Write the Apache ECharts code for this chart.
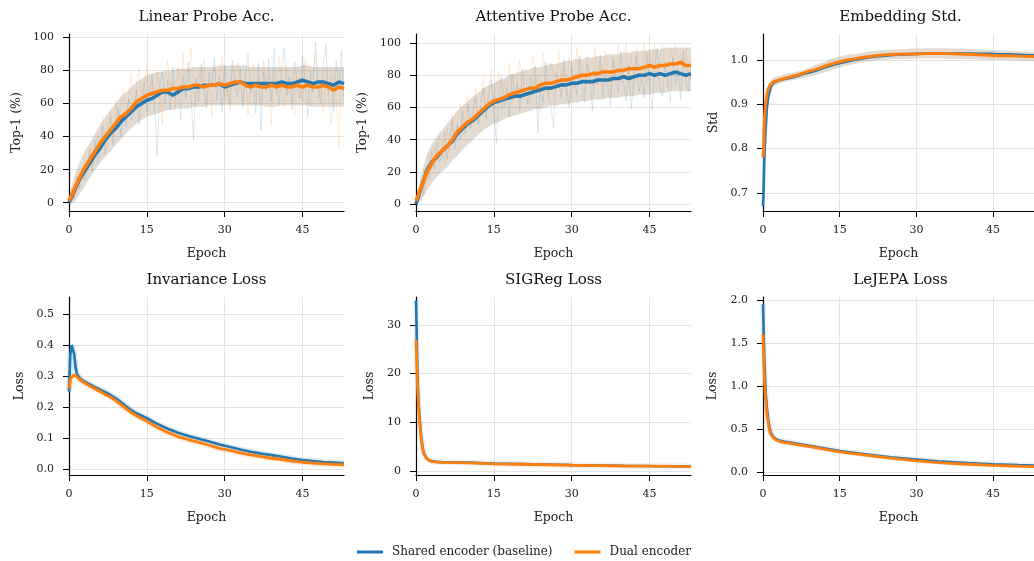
<!DOCTYPE html>
<html><head><meta charset="utf-8">
<script src="https://cdn.jsdelivr.net/npm/echarts@6/dist/echarts.min.js"></script>
<style>html,body{margin:0;padding:0;background:#fff;}#c{width:1034px;height:561px;}</style>
</head><body><div id="c"></div>
<script>
// ---------------- DATA ----------------
const xTicks = [0, 15, 30, 45];
const accEpochs = [0,1,2,3,4,5,6,7,8,9,10,11,12,13,14,15,16,17,18,19,20,21,22,23,24,25,26,27,28,29,30,31,32,33,34,35,36,37,38,39,40,41,42,43,44,45,46,47,48,49,50,51,52,53];
const rawEpochs = [0,0.5,1,1.5,2,2.5,3,3.5,4,4.5,5,5.5,6,6.5,7,7.5,8,8.5,9,9.5,10,10.5,11,11.5,12,12.5,13,13.5,14,14.5,15,15.5,16,16.5,17,17.5,18,18.5,19,19.5,20,20.5,21,21.5,22,22.5,23,23.5,24,24.5,25,25.5,26,26.5,27,27.5,28,28.5,29,29.5,30,30.5,31,31.5,32,32.5,33,33.5,34,34.5,35,35.5,36,36.5,37,37.5,38,38.5,39,39.5,40,40.5,41,41.5,42,42.5,43,43.5,44,44.5,45,45.5,46,46.5,47,47.5,48,48.5,49,49.5,50,50.5,51,51.5,52,52.5,53];

// Linear probe accuracy
const linBlue = [0,7,14,19,24,29,33,38,42,45,49,52,55,58,60,62,63,65,67,67,65,67,69,69,70,70,71,71,71,72,70,71,72,73,72,72,72,72,72,72,72,73,72,72,73,74,73,72,73,73,72,71,73,72];
const linOrange = [1,8,15,21,26,31,36,40,44,48,52,54,57,61,63,65,66,67,68,68,69,69,70,70,71,71,70,71,71,72,71,72,73,73,71,70,71,70,70,71,70,71,70,70,71,70,71,70,70,71,70,68,70,69];
const linBlueRaw = [0,5,2,16,8,21,13,25,30,19,38,24,31,46,29,41,52,35,47,58,40,55,46,63,50,54,68,47,62,73,55,66,78,57,28,71,80,60,74,56,82,63,70,50,77,64,85,66,38,75,61,84,68,57,79,72,88,62,76,55,83,69,60,86,74,64,81,58,77,90,66,73,54,84,44,79,68,87,61,93,70,59,82,94,65,76,56,85,71,63,89,74,52,80,67,97,72,60,83,96,66,78,55,86,69,92,62];
const linOrangeRaw = [2,9,12,4,19,14,26,18,33,24,28,42,35,52,37,48,55,40,62,49,58,70,51,64,78,56,69,82,60,71,84,63,74,58,80,69,47,77,86,64,73,57,82,68,90,62,75,94,66,58,80,71,87,60,74,52,83,69,77,88,63,72,56,81,67,85,76,61,79,53,70,84,64,75,59,86,68,78,47,80,65,88,72,57,83,66,76,52,84,69,61,87,73,58,78,90,63,71,55,82,67,47,79,64,34,76,68];
const linLower = [0,0,5,10,15,20,24,28,31,35,38,42,45,48,50,52,53,54,55,56,56,57,57,57,58,58,58,59,59,59,59,59,59,59,59,59,59,59,58,58,58,59,59,59,59,59,59,58,58,58,58,58,58,58];
const linUpper = [3,16,24,31,36,42,47,52,56,60,64,67,70,73,75,77,78,79,79,80,80,81,81,81,82,82,82,82,82,83,83,83,83,83,83,82,82,82,82,82,82,82,82,82,82,83,83,82,82,82,82,82,82,82];

// Attentive probe accuracy
const attBlue = [0,10,20,26,29,33,36,39,44,47,50,52,55,58,61,63,64,65,66,67,67,68,69,70,71,72,72,73,74,74,75,75,76,76,76,77,77,77,78,78,79,78,79,80,80,81,80,81,80,81,82,81,80,81];
const attOrange = [2,10,19,25,30,33,36,40,45,48,51,53,56,59,62,64,65,66,68,69,70,71,72,72,74,75,75,76,77,77,78,79,80,80,81,81,82,82,82,83,83,84,84,84,85,86,85,86,86,87,87,88,86,86];
const attBlueRaw = [0,6,14,5,24,15,33,22,38,26,30,45,28,41,52,34,49,40,58,44,62,47,56,66,49,61,72,53,67,77,57,38,70,79,60,72,54,81,66,75,58,84,68,62,79,71,86,44,74,63,88,70,61,47,82,76,66,90,72,60,85,77,68,92,71,63,87,79,58,83,74,93,66,80,72,61,89,77,69,95,75,64,86,59,81,92,70,78,66,94,76,58,85,97,72,67,88,79,63,91,74,84,65,95,77,70,86];
const attOrangeRaw = [3,10,7,22,14,30,21,36,27,42,35,25,47,33,55,41,50,62,43,57,68,49,61,72,52,66,78,57,71,85,60,74,82,58,77,70,88,63,80,73,90,65,84,76,62,92,74,81,68,94,78,66,88,80,70,96,75,84,67,91,81,72,97,77,86,70,93,82,73,98,79,89,72,95,84,66,92,80,99,75,88,100,78,93,71,97,85,79,100,74,94,86,99,77,91,100,81,72,96,88,100,79,93,84,98,76,90];
const attLower = [0,2,8,13,17,20,23,27,30,34,37,40,43,46,48,50,51,53,54,55,56,57,58,59,59,60,61,61,62,62,63,63,64,64,65,65,65,66,66,66,67,67,67,68,68,68,69,69,69,70,70,70,70,70];
const attUpper = [4,18,30,37,42,46,50,54,58,61,64,67,69,72,74,75,77,78,80,81,82,83,84,85,85,86,87,87,88,89,89,90,90,91,91,92,92,93,93,93,94,94,95,95,95,96,96,96,97,97,97,97,97,97];

// Embedding std
const embEpochs = [0,0.1,0.2,0.3,0.5,0.75,1,1.5,2,3,4,5,6,7,8,9,10,12,14,16,18,20,22,24,26,28,30,32,34,36,38,40,42,44,46,48,50,52,53];
const embBlue = [0.67,0.70,0.75,0.79,0.84,0.89,0.915,0.94,0.948,0.954,0.957,0.959,0.962,0.965,0.969,0.972,0.975,0.983,0.990,0.996,1.001,1.005,1.008,1.010,1.012,1.013,1.014,1.015,1.015,1.015,1.015,1.015,1.014,1.014,1.013,1.013,1.012,1.011,1.011];
const embOrange = [0.78,0.80,0.84,0.87,0.90,0.92,0.935,0.945,0.95,0.955,0.958,0.961,0.964,0.967,0.971,0.975,0.978,0.986,0.993,0.999,1.003,1.007,1.010,1.012,1.013,1.014,1.014,1.015,1.015,1.015,1.014,1.013,1.012,1.011,1.010,1.010,1.009,1.008,1.008];
const embLower = [0.70,0.91,0.94,0.946,0.950,0.953,0.955,0.958,0.960,0.962,0.965,0.969,0.972,0.976,0.980,0.983,0.986,0.989,0.992,0.994,0.996,0.998,0.999,1.000,1.001,1.002,1.002,1.003,1.003,1.003,1.003,1.004,1.004,1.004,1.004,1.004,1.003,1.003,1.003,1.003,1.002,1.002,1.002,1.001,1.001,1.000,1.000,1.000,0.999,0.999,0.999,0.998,0.998,0.998];
const embUpper = [0.80,0.945,0.96,0.964,0.967,0.970,0.972,0.975,0.978,0.983,0.988,0.992,0.996,1.001,1.005,1.008,1.011,1.013,1.014,1.016,1.018,1.020,1.021,1.022,1.023,1.024,1.024,1.025,1.025,1.026,1.026,1.026,1.027,1.027,1.027,1.027,1.027,1.026,1.026,1.026,1.025,1.025,1.024,1.024,1.023,1.023,1.022,1.022,1.021,1.021,1.020,1.020,1.019,1.019];

// Invariance loss
const invEpochs = [0,0.25,0.5,0.75,1,1.25,1.5,2,2.5,3,4,5,6,7,8,9,10,11,12,13,14,15,17,19,21,23,25,27,29,31,33,35,37,39,41,43,45,47,49,51,53];
const invBlue = [0.25,0.37,0.40,0.397,0.37,0.33,0.308,0.295,0.287,0.282,0.273,0.264,0.256,0.248,0.239,0.228,0.216,0.203,0.19,0.18,0.172,0.164,0.146,0.13,0.117,0.107,0.098,0.089,0.079,0.071,0.063,0.056,0.05,0.045,0.04,0.034,0.029,0.026,0.023,0.021,0.019];
const invOrange = [0.26,0.285,0.298,0.302,0.303,0.301,0.298,0.29,0.283,0.278,0.268,0.259,0.25,0.241,0.232,0.221,0.208,0.195,0.182,0.172,0.163,0.154,0.135,0.118,0.105,0.095,0.086,0.077,0.067,0.06,0.052,0.046,0.04,0.035,0.031,0.026,0.022,0.019,0.017,0.015,0.014];

// SIGReg and LeJEPA loss
const sigEpochs = [0,0.1,0.2,0.3,0.5,0.75,1,1.25,1.5,2,2.5,3,4,5,7,10,15,20,25,30,35,40,45,50,53];
const sigBlue = [35,30,24,19,14,10,7,5,3.8,2.7,2.3,2.05,1.9,1.85,1.8,1.75,1.55,1.45,1.35,1.25,1.17,1.1,1.04,1.0,0.98];
const sigOrange = [27,24,20,17,13,9.5,6.5,4.6,3.6,2.6,2.2,2.0,1.85,1.8,1.75,1.7,1.5,1.4,1.3,1.2,1.12,1.05,1.0,0.96,0.93];
const lejBlue = [1.95,1.7,1.45,1.25,0.95,0.75,0.62,0.52,0.46,0.41,0.385,0.37,0.355,0.345,0.325,0.295,0.245,0.205,0.17,0.145,0.12,0.103,0.09,0.08,0.075];
const lejOrange = [1.6,1.4,1.2,1.05,0.85,0.68,0.58,0.49,0.44,0.40,0.375,0.36,0.345,0.335,0.315,0.285,0.235,0.195,0.16,0.13,0.107,0.09,0.077,0.067,0.062];

const titles = ['Linear Probe Acc.', 'Attentive Probe Acc.', 'Embedding Std.', 'Invariance Loss', 'SIGReg Loss', 'LeJEPA Loss'];
const yNames = ['Top-1 (%)', 'Top-1 (%)', 'Std', 'Loss', 'Loss', 'Loss'];
const yTicks = [[0,20,40,60,80,100],[0,20,40,60,80,100],[0.7,0.8,0.9,1.0],[0,0.1,0.2,0.3,0.4,0.5],[0,10,20,30],[0,0.5,1.0,1.5,2.0]];
const seriesNames = ['Shared encoder (baseline)', 'Dual encoder'];

// ---------------- LAYOUT / STYLE ----------------
const FONT = "'DejaVu Serif', serif";
const BLUE = '#1f77b4', ORANGE = '#ff7f0e';
const grids = [
  {left:69, top:34, width:275, height:177},
  {left:416, top:34, width:275, height:177},
  {left:763, top:34, width:275, height:177},
  {left:69, top:297, width:275, height:178},
  {left:416, top:297, width:275, height:178},
  {left:763, top:297, width:275, height:178}
];
const yRange = [[-5,102],[-4.3,105.6],[0.659,1.059],[-0.019,0.555],[-0.8,35.7],[-0.035,2.035]];
const yDec = [0,0,1,1,0,1];
const yGap = [46,47,43,43,40,44];

const zip = (xs, ys) => xs.map((x, i) => [x, ys[i]]);

const visibleX = grids.map((g, i) => ({
  type: 'value', gridIndex: i, min: 0, max: 53,
  name: 'Epoch', nameLocation: 'middle', nameGap: 36,
  nameTextStyle: {fontFamily: FONT, fontSize: 12.5, color: '#222'},
  axisLine: {onZero: false, lineStyle: {color: '#000', width: 1.2}},
  axisTick: {show: true, length: 6, customValues: xTicks, lineStyle: {color: '#000', width: 1}},
  axisLabel: {customValues: xTicks, fontFamily: FONT, fontSize: 11, color: '#222', margin: 14},
  splitLine: {show: true, lineStyle: {color: '#e4e4e4', width: 1}}
}));
// hidden evenly spaced epoch axes (0..53, same span) used only for the shaded bands
const bandX = grids.map((g, i) => ({
  type: 'category', gridIndex: i, data: accEpochs.map(String), boundaryGap: false, show: false
}));

const option = {
  backgroundColor: '#fff',
  animation: false,
  title: titles.map((t, i) => ({
    text: t, left: grids[i].left + grids[i].width / 2, top: i < 3 ? 10 : 273,
    textAlign: 'center', padding: 0,
    textStyle: {fontFamily: FONT, fontSize: 15, fontWeight: 'normal', color: '#111'}
  })),
  legend: {
    data: [{name: seriesNames[0], icon: 'rect'}, {name: seriesNames[1], icon: 'rect'}],
    left: 357, top: 546, itemWidth: 26, itemHeight: 3, itemGap: 22, padding: 0,
    textStyle: {fontFamily: FONT, fontSize: 12, color: '#222', padding: [0, 0, 0, 4]}
  },
  grid: grids.map(g => Object.assign({containLabel: false}, g)),
  xAxis: visibleX.concat(bandX),
  yAxis: grids.map((g, i) => ({
    type: 'value', gridIndex: i, min: yRange[i][0], max: yRange[i][1],
    name: yNames[i], nameLocation: 'middle', nameGap: yGap[i],
    nameTextStyle: {fontFamily: FONT, fontSize: 12.5, color: '#222'},
    axisLine: {show: true, onZero: false, lineStyle: {color: '#000', width: 1.2}},
    axisTick: {show: true, length: 6, customValues: yTicks[i], lineStyle: {color: '#000', width: 1}},
    axisLabel: {customValues: yTicks[i], fontFamily: FONT, fontSize: 11, color: '#222', margin: 15,
      formatter: v => Number(v).toFixed(yDec[i])},
    splitLine: {show: true, lineStyle: {color: '#e4e4e4', width: 1}}
  })),
  series: []
};

const S = option.series;
function line(gi, name, data, color, width, opacity) {
  S.push({type: 'line', name, xAxisIndex: gi, yAxisIndex: gi, data, symbol: 'none', silent: true,
    lineStyle: {color, width, opacity}, itemStyle: {color}});
}
let bandCount = 0;
function band(gi, lo, hi, fill) {
  const key = 'band' + (bandCount++);
  S.push({type: 'line', name: key, xAxisIndex: 6 + gi, yAxisIndex: gi, stack: key, symbol: 'none', silent: true,
    data: lo, lineStyle: {width: 0, opacity: 0}});
  S.push({type: 'line', name: key, xAxisIndex: 6 + gi, yAxisIndex: gi, stack: key, symbol: 'none', silent: true,
    data: hi.map((h, k) => +(h - lo[k]).toFixed(4)), lineStyle: {width: 0, opacity: 0},
    areaStyle: {color: fill, opacity: 1}});
}
const BLUE_FILL = 'rgba(31,119,180,0.15)', ORANGE_FILL = 'rgba(255,127,14,0.15)';

// loss panels first (so legend picks bright colours)
line(3, 'h', zip(invEpochs, invBlue), BLUE, 6, 0.15);
line(3, seriesNames[0], zip(invEpochs, invBlue), BLUE, 2.6, 1);
line(3, 'h', zip(invEpochs, invOrange), ORANGE, 6, 0.15);
line(3, seriesNames[1], zip(invEpochs, invOrange), ORANGE, 2.8, 1);
line(4, 'h', zip(sigEpochs, sigBlue), '#999', 6, 0.15);
line(4, seriesNames[0], zip(sigEpochs, sigBlue), BLUE, 2.6, 1);
line(4, seriesNames[1], zip(sigEpochs, sigOrange), ORANGE, 2.8, 1);
line(5, 'h', zip(sigEpochs, lejBlue), '#999', 6, 0.15);
line(5, seriesNames[0], zip(sigEpochs, lejBlue), BLUE, 2.6, 1);
line(5, seriesNames[1], zip(sigEpochs, lejOrange), ORANGE, 2.8, 1);

// accuracy panels
[[0, linBlue, linOrange, linBlueRaw, linOrangeRaw, linLower, linUpper],
 [1, attBlue, attOrange, attBlueRaw, attOrangeRaw, attLower, attUpper]].forEach(([gi, b, o, br, orw, lo, hi]) => {
  line(gi, 'rb', zip(rawEpochs, br), BLUE, 0.8, 0.2);
  band(gi, lo, hi, BLUE_FILL);
  line(gi, seriesNames[0], zip(accEpochs, b), BLUE, 3.6, 1);
  line(gi, 'ro', zip(rawEpochs, orw), ORANGE, 0.8, 0.18);
  band(gi, lo, hi, ORANGE_FILL);
  line(gi, seriesNames[1], zip(accEpochs, o), ORANGE, 3.6, 1);
});

// embedding std
band(2, embLower, embUpper, BLUE_FILL);
line(2, seriesNames[0], zip(embEpochs, embBlue), BLUE, 2.6, 1);
band(2, embLower, embUpper, ORANGE_FILL);
line(2, seriesNames[1], zip(embEpochs, embOrange), ORANGE, 3, 1);

const chart = echarts.init(document.getElementById('c'), null, {renderer: 'canvas'});
chart.setOption(option);
</script></body></html>
